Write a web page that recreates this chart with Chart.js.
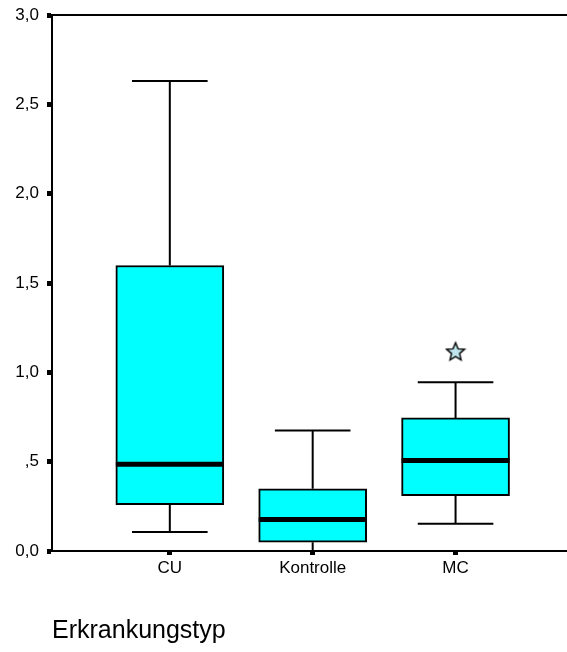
<!DOCTYPE html>
<html><head><meta charset="utf-8">
<script src="https://cdn.jsdelivr.net/npm/chart.js@4"></script>
<style>html,body{margin:0;padding:0;background:#fff}</style>
</head><body>
<canvas id="c" width="567" height="652"></canvas>
<script>
// ---- data ----
const categories = ['CU', 'Kontrolle', 'MC'];
const positions = [1, 2, 3];
const whiskerLow = [0.107, 0.0, 0.152];
const quartile1 = [0.26, 0.049, 0.31];
const medians = [0.485, 0.176, 0.506];
const quartile3 = [1.598, 0.348, 0.745];
const whiskerHigh = [2.631, 0.675, 0.944];
const outlierPositions = [3];
const outlierValues = [1.117];
const yTickLabels = ['0,0', ',5', '1,0', '1,5', '2,0', '2,5', '3,0'];
const axisTitle = 'Erkrankungstyp';

// star marker
function makeStar(size) {
  const c = document.createElement('canvas');
  c.width = size; c.height = size;
  const g = c.getContext('2d');
  const cx = size / 2, cy = size / 2 + 0.8, R = size / 2 - 1.5, r = R * 0.45;
  g.beginPath();
  for (let i = 0; i < 10; i++) {
    const a = -Math.PI / 2 + i * Math.PI / 5;
    const rad = i % 2 === 0 ? R : r;
    const px = cx + rad * Math.cos(a), py = cy + rad * Math.sin(a);
    if (i === 0) g.moveTo(px, py); else g.lineTo(px, py);
  }
  g.closePath();
  g.fillStyle = '#bfe6ec';
  g.fill();
  g.lineWidth = 1.4;
  g.strokeStyle = '#000';
  g.stroke();
  return c;
}
const starImg = makeStar(22);

const boxPlugin = {
  id: 'boxWhisker',
  afterDatasetsDraw(chart) {
    const { ctx, scales: { x, y } } = chart;
    const meta = chart.getDatasetMeta(0);
    ctx.save();
    ctx.strokeStyle = '#000';
    positions.forEach((p, i) => {
      const bar = meta.data[i];
      const cx = x.getPixelForValue(p);
      const half = bar.width / 2;
      const cap = bar.width * 0.35;
      ctx.lineWidth = 2;
      ctx.beginPath();
      ctx.moveTo(cx, y.getPixelForValue(quartile3[i]));
      ctx.lineTo(cx, y.getPixelForValue(whiskerHigh[i]));
      ctx.moveTo(cx - cap, y.getPixelForValue(whiskerHigh[i]));
      ctx.lineTo(cx + cap, y.getPixelForValue(whiskerHigh[i]));
      ctx.moveTo(cx, y.getPixelForValue(quartile1[i]));
      ctx.lineTo(cx, y.getPixelForValue(whiskerLow[i]));
      ctx.moveTo(cx - cap, y.getPixelForValue(whiskerLow[i]));
      ctx.lineTo(cx + cap, y.getPixelForValue(whiskerLow[i]));
      ctx.stroke();
      ctx.lineWidth = 5;
      ctx.beginPath();
      ctx.moveTo(cx - half, y.getPixelForValue(medians[i]));
      ctx.lineTo(cx + half, y.getPixelForValue(medians[i]));
      ctx.stroke();
    });
    // top frame line
    const a = chart.chartArea;
    ctx.lineWidth = 2;
    ctx.beginPath();
    ctx.moveTo(a.left, a.top);
    ctx.lineTo(chart.width, a.top);
    ctx.stroke();
    ctx.restore();
  }
};

new Chart(document.getElementById('c'), {
  type: 'bar',
  data: {
    datasets: [{
      data: positions.map((p, i) => ({ x: p, y: [quartile1[i], quartile3[i]] })),
      backgroundColor: '#00ffff',
      borderColor: '#000',
      borderWidth: 2,
      borderSkipped: false,
      barThickness: 108
    }, {
      type: 'scatter',
      data: outlierPositions.map((p, i) => ({ x: p, y: outlierValues[i] })),
      pointStyle: starImg,
      pointRadius: 10
    }]
  },
  options: {
    responsive: false,
    animation: false,
    layout: { autoPadding: false, padding: { top: 15, left: 0, right: 0, bottom: 0 } },
    plugins: { legend: { display: false }, tooltip: { enabled: false } },
    scales: {
      x: {
        type: 'linear',
        offset: false,
        min: 0.1754,
        max: 3.78,
        afterBuildTicks: s => { s.ticks = positions.map(v => ({ value: v })); },
        afterFit: s => { s.height = 101; s.paddingLeft = 0; s.paddingRight = 0; },
        ticks: {
          callback: (v) => categories[positions.indexOf(v)],
          font: { family: 'Liberation Sans', size: 17 },
          color: '#000',
          padding: 3,
          maxRotation: 0,
          autoSkip: false
        },
        grid: { offset: false, drawOnChartArea: false, drawTicks: true, tickLength: 4, tickWidth: 5, color: '#000' },
        border: { display: true, color: '#000', width: 2 },
        title: {
          display: true, text: axisTitle, align: 'start',
          font: { family: 'Liberation Sans', size: 25 }, color: '#000',
          padding: { top: 0, bottom: 6 }
        }
      },
      y: {
        min: 0, max: 3,
        afterBuildTicks: s => { s.ticks = yTickLabels.map((t, i) => ({ value: i * 0.5 })); },
        afterFit: s => { s.width = 52; s.paddingTop = 0; s.paddingBottom = 0; },
        ticks: {
          callback: (v, i) => yTickLabels[i],
          font: { family: 'Liberation Sans', size: 17 },
          color: '#000',
          padding: 8
        },
        grid: { drawOnChartArea: false, drawTicks: true, tickLength: 5, tickWidth: 5, color: '#000' },
        border: { display: true, color: '#000', width: 2 }
      }
    }
  },
  plugins: [boxPlugin]
});
</script>
</body></html>
